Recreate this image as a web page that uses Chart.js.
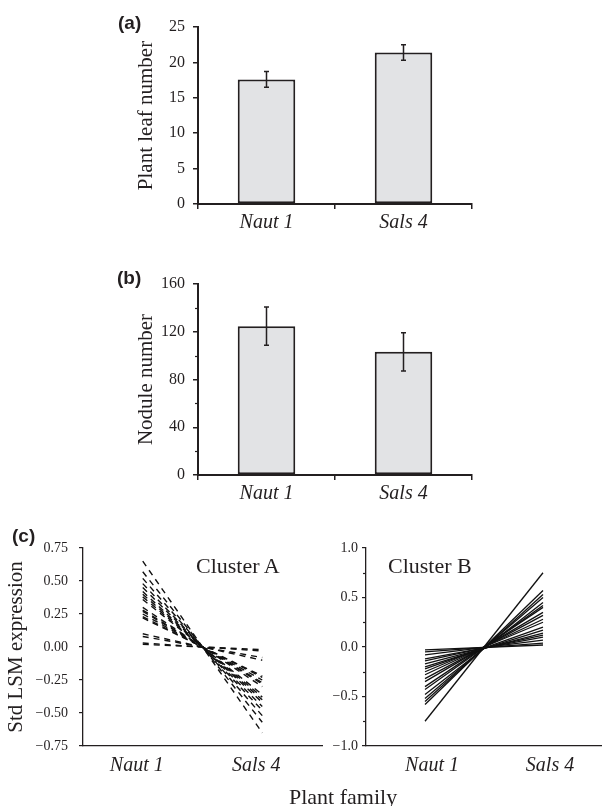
<!DOCTYPE html>
<html>
<head>
<meta charset="utf-8">
<script src="https://cdn.jsdelivr.net/npm/chart.js@4.4.1/dist/chart.umd.min.js"></script>
<style>
  body { margin: 0; background: #fff; width: 602px; height: 806px; position: relative; overflow: hidden; }
  canvas { position: absolute; }
  .lbl { position: absolute; line-height: 1; white-space: nowrap; color: #231f20; }
  .pn { font: bold 19px "Liberation Sans"; }
  .serif { font-family: "Liberation Serif"; font-size: 22px; }
</style>
</head>
<body>
<canvas id="chartA" width="602" height="240" style="left:0;top:0"></canvas>
<canvas id="chartB" width="602" height="270" style="left:0;top:240px"></canvas>
<canvas id="chartC1" width="330" height="290" style="left:0;top:510px"></canvas>
<canvas id="chartC2" width="302" height="290" style="left:300px;top:510px"></canvas>

<div class="lbl pn" style="left:118px;top:12px">(a)</div>
<div class="lbl pn" style="left:117px;top:267px">(b)</div>
<div class="lbl pn" style="left:12px;top:525px">(c)</div>
<div class="lbl serif" style="left:196px;top:555px">Cluster A</div>
<div class="lbl serif" style="left:388px;top:555px">Cluster B</div>
<div class="lbl serif" style="left:289px;top:786px">Plant family</div>

<script>
// data
const families = ["Naut 1", "Sals 4"];

const leafMeans = [17.6, 21.4];
const leafErr = [1.1, 1.1];
const leafTicks = [0, 5, 10, 15, 20, 25];

const noduleMeans = [124.7, 103.2];
const noduleErr = [16, 16];
const noduleTicks = [0, 40, 80, 120, 160];
const noduleMinor = [20, 60, 100, 140];

// Cluster A (dashed), one line per gene: value at Naut 1 and at Sals 4
const clusterANaut = [0.65, 0.57, 0.52, 0.48, 0.45, 0.42, 0.40, 0.38, 0.36, 0.30, 0.28, 0.27, 0.25, 0.23, 0.22, 0.10, 0.08, 0.03, 0.02];
const clusterASals = [-0.65, -0.57, -0.52, -0.48, -0.45, -0.42, -0.40, -0.38, -0.36, -0.30, -0.28, -0.27, -0.25, -0.23, -0.22, -0.10, -0.08, -0.03, -0.02];
const clusterATicks = [-0.75, -0.5, -0.25, 0, 0.25, 0.5, 0.75];

// Cluster B (solid)
const clusterBNaut = [-0.03, -0.05, -0.08, -0.12, -0.14, -0.17, -0.20, -0.22, -0.25, -0.28, -0.32, -0.35, -0.40, -0.43, -0.48, -0.52, -0.55, -0.58, -0.75];
const clusterBSals = [0.02, 0.04, 0.07, 0.10, 0.12, 0.14, 0.17, 0.20, 0.25, 0.28, 0.32, 0.35, 0.40, 0.42, 0.45, 0.50, 0.53, 0.57, 0.75];
const clusterBTicks = [-1, -0.5, 0, 0.5, 1];
const clusterBMinor = [-0.75, -0.25, 0.25, 0.75];

const ink = "#231f20";
const serif = "Liberation Serif";

const fmt = (v, d) => (v < 0 ? "\u2212" : "") + Math.abs(v).toFixed(d);

// error bars on top of the bars
const errorBars = {
    id: "errorBars",
    afterDatasetsDraw(chart, args, opts) {
        if (!opts.err) return;
        const y = chart.scales.y;
        const ctx = chart.ctx;
        const vals = chart.data.datasets[0].data;
        ctx.save();
        ctx.strokeStyle = ink;
        ctx.lineWidth = 1.5;
        chart.getDatasetMeta(0).data.forEach((bar, i) => {
            const top = y.getPixelForValue(vals[i] + opts.err[i]);
            const bot = y.getPixelForValue(vals[i] - opts.err[i]);
            ctx.beginPath();
            ctx.moveTo(bar.x, top); ctx.lineTo(bar.x, bot);
            ctx.moveTo(bar.x - 2.5, top); ctx.lineTo(bar.x + 2.5, top);
            ctx.moveTo(bar.x - 2.5, bot); ctx.lineTo(bar.x + 2.5, bot);
            ctx.stroke();
        });
        ctx.restore();
    }
};

// short unlabeled ticks on the y axis
const minorTicks = {
    id: "minorTicks",
    afterDraw(chart, args, opts) {
        if (!opts.values) return;
        const y = chart.scales.y;
        const ctx = chart.ctx;
        ctx.save();
        ctx.strokeStyle = ink;
        ctx.lineWidth = 1.2;
        opts.values.forEach(v => {
            const py = Math.round(y.getPixelForValue(v)) + 0.5;
            ctx.beginPath();
            ctx.moveTo(y.right - 3, py);
            ctx.lineTo(y.right, py);
            ctx.stroke();
        });
        ctx.restore();
    }
};

function barChart(id, means, err, ticks, minor, title, padTop, xHeight) {
    return new Chart(document.getElementById(id), {
        type: "bar",
        data: {
            labels: families,
            datasets: [{
                data: means,
                backgroundColor: "#e2e3e5",
                borderColor: ink,
                borderWidth: 2,
                borderSkipped: false,
                barPercentage: 1,
                categoryPercentage: 0.42
            }]
        },
        options: {
            responsive: false,
            animation: false,
            layout: {padding: {top: padTop, right: 130, left: 0, bottom: 0}},
            plugins: {
                legend: {display: false},
                tooltip: {enabled: false},
                errorBars: {err: err},
                minorTicks: {values: minor}
            },
            scales: {
                x: {
                    grid: {drawOnChartArea: false, drawTicks: true, tickLength: 5, color: ink, lineWidth: 1.5},
                    border: {display: true, color: ink, width: 2},
                    ticks: {color: ink, padding: 2, font: {family: serif, size: 20, style: "italic"}},
                    afterFit: s => { s.height = xHeight; }
                },
                y: {
                    min: 0,
                    max: ticks[ticks.length - 1],
                    afterBuildTicks: s => { s.ticks = ticks.map(v => ({value: v})); },
                    grid: {drawOnChartArea: false, drawTicks: true, tickLength: 5, color: ink, lineWidth: 1.5},
                    border: {display: true, color: ink, width: 2},
                    ticks: {color: ink, padding: 8, font: {family: serif, size: 16}},
                    title: {display: true, text: title, color: ink, padding: {top: 134, bottom: 0}, font: {family: serif, size: 21}},
                    afterFit: s => { s.width = 198; }
                }
            }
        },
        plugins: [errorBars, minorTicks]
    });
}

function lineChart(id, naut, sals, dashed, ticks, minor, decimals, yWidth, padRight, tickPad, labelShift, title) {
    const datasets = naut.map((v, i) => ({
        data: [v, sals[i]],
        borderColor: "#111",
        borderWidth: dashed ? 1.4 : 1.3,
        borderDash: dashed ? [6, 5] : [],
        pointRadius: 0,
        fill: false
    }));
    return new Chart(document.getElementById(id), {
        type: "line",
        data: {labels: families, datasets: datasets},
        options: {
            responsive: false,
            animation: false,
            layout: {padding: {top: 38, right: padRight, left: 0, bottom: 0}},
            plugins: {
                legend: {display: false},
                tooltip: {enabled: false},
                minorTicks: {values: minor}
            },
            scales: {
                x: {
                    offset: true,
                    grid: {drawOnChartArea: false, drawTicks: false},
                    border: {display: true, color: ink, width: 1.3},
                    ticks: {color: ink, padding: 8, labelOffset: labelShift, font: {family: serif, size: 20, style: "italic"}},
                    afterFit: s => { s.height = 54; }
                },
                y: {
                    min: ticks[0],
                    max: ticks[ticks.length - 1],
                    afterBuildTicks: s => { s.ticks = ticks.map(v => ({value: v})); },
                    grid: {drawOnChartArea: false, drawTicks: true, tickLength: 4, color: ink, lineWidth: 1.2},
                    border: {display: true, color: ink, width: 1.3},
                    ticks: {color: ink, padding: tickPad, font: {family: serif, size: 14}, callback: v => fmt(v, decimals)},
                    title: {display: !!title, text: title || "", color: ink, padding: {top: 4, bottom: 0}, font: {family: serif, size: 21}},
                    afterFit: s => { s.width = yWidth; }
                }
            }
        },
        plugins: [minorTicks]
    });
}

barChart("chartA", leafMeans, leafErr, leafTicks, null, "Plant leaf number", 27, 36);
barChart("chartB", noduleMeans, noduleErr, noduleTicks, noduleMinor, "Nodule number", 44, 35);
lineChart("chartC1", clusterANaut, clusterASals, true, clusterATicks, null, 2, 83, 8, 11, -6, "Std LSM expression");
lineChart("chartC2", clusterBNaut, clusterBSals, false, clusterBTicks, clusterBMinor, 1, 66, 0, 4, 7, null);
</script>
</body>
</html>
